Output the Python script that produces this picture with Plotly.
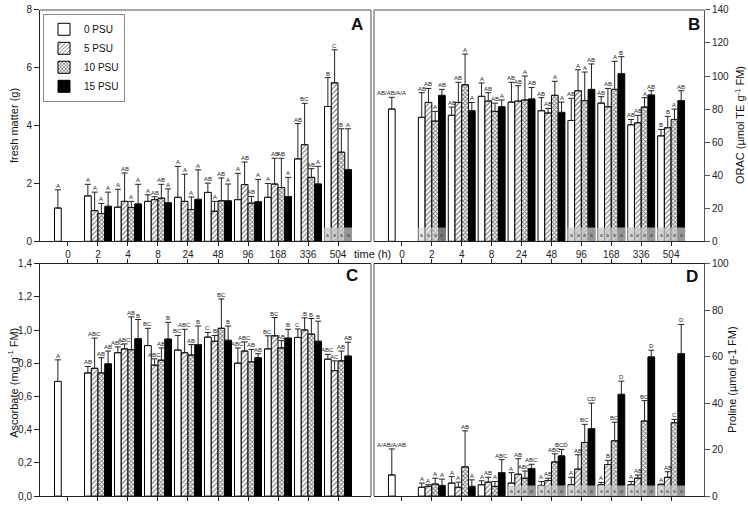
import plotly.graph_objects as go

W, H = 748, 507

# ---------------- data ----------------
times = ["0", "2", "4", "8", "24", "48", "96", "168", "336", "504"]
series = ["0 PSU", "5 PSU", "10 PSU", "15 PSU"]

# Panel A: fresh matter (g)
fm_mean_0 = [1.15, 1.57, 1.18, 1.38, 1.52, 1.69, 1.44, 1.52, 2.85, 4.66]
fm_err_0 = [0.63, 0.40, 0.62, 0.23, 1.07, 0.32, 0.91, 0.48, 1.22, 1.00]
fm_mean_5 = [None, 1.06, 1.38, 1.44, 1.38, 1.04, 1.96, 1.98, 3.34, 5.48]
fm_err_5 = [None, 0.64, 0.98, 0.10, 0.94, 0.34, 0.78, 0.89, 1.43, 1.14]
fm_mean_10 = [None, 0.96, 1.17, 1.49, 1.10, 1.40, 1.32, 1.86, 2.21, 3.08]
fm_err_10 = [None, 0.35, 0.21, 0.48, 0.43, 0.79, 0.23, 1.01, 0.30, 0.81]
fm_mean_15 = [None, 1.21, 1.29, 1.33, 1.45, 1.40, 1.37, 1.55, 1.98, 2.48]
fm_err_15 = [None, 0.49, 0.68, 0.48, 1.02, 0.58, 0.77, 0.66, 0.61, 1.41]
fm_let_0 = ["A", "A", "A", "A", "A", "AB", "A", "A", "AB", "B"]
fm_let_5 = [None, "A", "AB", "AB", "A", "A", "AB", "AB", "BC", "C"]
fm_let_10 = [None, "A", "A", "AB", "A", "AB", "AB", "AB", "AB", "B"]
fm_let_15 = [None, "A", "A", "A", "A", "A", "A", "A", "A", "A"]

# Panel B: ORAC (umol TE g-1 FM)
orac_mean_0 = [80.0, 75.0, 76.2, 87.7, 84.2, 79.0, 73.1, 83.6, 70.5, 63.8]
orac_err_0 = [7.1, 14.9, 5.0, 8.1, 12.0, 7.9, 13.4, 3.9, 3.2, 3.9]
orac_mean_5 = [None, 84.0, 84.0, 84.8, 84.8, 77.6, 91.1, 81.4, 71.7, 68.7]
orac_err_5 = [None, 8.5, 12.2, 5.1, 9.3, 2.8, 12.7, 11.1, 4.5, 6.9]
orac_mean_10 = [None, 72.7, 94.7, 78.6, 85.5, 88.3, 85.1, 91.9, 81.2, 73.7]
orac_err_10 = [None, 5.9, 18.6, 5.0, 14.5, 8.5, 17.3, 17.0, 5.7, 6.3]
orac_mean_15 = [None, 88.3, 79.0, 81.4, 86.1, 78.0, 91.9, 101.4, 88.5, 85.1]
orac_err_15 = [None, 3.6, 5.0, 4.1, 7.0, 6.2, 15.4, 10.3, 2.6, 6.0]
orac_let_0 = ["AB/AB/A/A", "AB", "AB", "A", "AB", "AB", "AB", "AB", "AB", "B"]
orac_let_5 = [None, "AB", "AB", "AB", "AB", "AB", "A", "AB", "AB", "B"]
orac_let_10 = [None, "A", "A", "AB", "A", "A", "A", "A", "A", "A"]
orac_let_15 = [None, "AB", "A", "A", "AB", "A", "AB", "B", "AB", "AB"]

# Panel C: Ascorbate (mg g-1 FM)
asc_mean_0 = [0.691, 0.742, 0.864, 0.907, 0.880, 0.958, 0.801, 0.887, 0.956, 0.825]
asc_err_0 = [0.130, 0.039, 0.035, 0.104, 0.088, 0.028, 0.092, 0.079, 0.051, 0.029]
asc_mean_5 = [None, 0.770, 0.887, 0.789, 0.864, 0.933, 0.874, 0.966, 1.001, 0.756]
asc_err_5 = [None, 0.182, 0.030, 0.038, 0.141, 0.035, 0.055, 0.110, 0.073, 0.059]
asc_mean_10 = [None, 0.742, 0.882, 0.819, 0.850, 1.011, 0.809, 0.893, 0.976, 0.815]
asc_err_10 = [None, 0.092, 0.198, 0.074, 0.063, 0.177, 0.075, 0.044, 0.094, 0.059]
asc_mean_15 = [None, 0.797, 0.948, 0.946, 0.913, 0.939, 0.834, 0.952, 0.933, 0.844]
asc_err_15 = [None, 0.077, 0.116, 0.101, 0.112, 0.086, 0.024, 0.053, 0.121, 0.083]
asc_let_0 = ["A", "AB", "ABC", "BC", "BC", "C", "ABC", "BC", "C", "ABC"]
asc_let_5 = [None, "ABC", "ABC", "ABC", "ABC", "B", "ABC", "BC", "B", "AC"]
asc_let_10 = [None, "AB", "AB", "AB", "AB", "BC", "AB", "AB", "B", "AB"]
asc_let_15 = [None, "AB", "B", "B", "B", "B", "AB", "B", "B", "AB"]

# Panel D: Proline (umol g-1 FM)
pro_mean_0 = [9.1, 3.8, 5.6, 4.9, 5.6, 4.6, 4.9, 4.9, 4.9, 4.9]
pro_err_0 = [11.2, 1.8, 2.8, 1.7, 4.5, 1.7, 3.2, 1.0, 1.4, 0.3]
pro_mean_5 = [None, 4.2, 3.8, 6.0, 9.4, 6.7, 11.6, 13.6, 7.7, 8.1]
pro_err_5 = [None, 0.7, 2.2, 2.1, 6.7, 1.0, 6.2, 1.8, 1.4, 2.4]
pro_mean_10 = [None, 5.2, 12.6, 4.2, 7.7, 14.7, 23.1, 23.8, 32.3, 31.6]
pro_err_10 = [None, 2.5, 15.5, 2.1, 3.1, 3.5, 7.8, 8.0, 8.8, 1.4]
pro_mean_15 = [None, 4.6, 4.2, 10.1, 11.9, 17.3, 29.0, 43.8, 59.9, 61.3]
pro_err_15 = [None, 2.7, 2.8, 5.6, 1.8, 2.8, 11.0, 5.7, 2.9, 12.6]
pro_let_0 = ["A/AB/A/AB", "A", "A", "A", "A", "A", "A", "A", "A", "A"]
pro_let_5 = [None, "A", "A", "AB", "AB", "AB", "AB", "B", "AB", "AB"]
pro_let_10 = [None, "A", "AB", "A", "ABC", "ABC", "BC", "BC", "BC", "C"]
pro_let_15 = [None, "A", "A", "ABC", "ABC", "BCD", "CD", "D", "D", "D"]

# groups carrying the small grey letter boxes at the base of the bars
box_groups_A = ["504"]
box_groups_B = ["2", "96", "168", "336", "504"]
box_groups_D = ["24", "48", "96", "168", "336", "504"]

y_ticks_A = [0, 2, 4, 6, 8]
y_ticks_B = [0, 20, 40, 60, 80, 100, 120, 140]
y_ticks_C = [0.0, 0.2, 0.4, 0.6, 0.8, 1.0, 1.2, 1.4]
y_ticktext_C = ["0,0", "0,2", "0,4", "0,6", "0,8", "1,0", "1,2", "1,4"]
y_ticks_D = [0, 20, 40, 60, 80, 100]

# ---------------- styling ----------------
FONT = "Arial, Liberation Sans, sans-serif"
BARGAP = 0.1
BW = (1 - BARGAP) / 4
OFFS = [(-1.5 + k) * BW for k in range(4)]

markers = [
    dict(color="white", line=dict(color="black", width=1)),
    dict(color="white", line=dict(color="black", width=1),
         pattern=dict(shape="/", fgcolor="black", bgcolor="white", size=3.5, solidity=0.35)),
    dict(color="white", line=dict(color="black", width=1),
         pattern=dict(shape="x", fgcolor="black", bgcolor="white", size=3, solidity=0.55)),
    dict(color="black", line=dict(color="black", width=1)),
]

panels = [
    dict(xa="x", ya="y", means=[fm_mean_0, fm_mean_5, fm_mean_10, fm_mean_15],
         errs=[fm_err_0, fm_err_5, fm_err_10, fm_err_15],
         lets=[fm_let_0, fm_let_5, fm_let_10, fm_let_15], legend=True),
    dict(xa="x2", ya="y2", means=[orac_mean_0, orac_mean_5, orac_mean_10, orac_mean_15],
         errs=[orac_err_0, orac_err_5, orac_err_10, orac_err_15],
         lets=[orac_let_0, orac_let_5, orac_let_10, orac_let_15], legend=False),
    dict(xa="x3", ya="y3", means=[asc_mean_0, asc_mean_5, asc_mean_10, asc_mean_15],
         errs=[asc_err_0, asc_err_5, asc_err_10, asc_err_15],
         lets=[asc_let_0, asc_let_5, asc_let_10, asc_let_15], legend=False),
    dict(xa="x4", ya="y4", means=[pro_mean_0, pro_mean_5, pro_mean_10, pro_mean_15],
         errs=[pro_err_0, pro_err_5, pro_err_10, pro_err_15],
         lets=[pro_let_0, pro_let_5, pro_let_10, pro_let_15], legend=False),
]

fig = go.Figure()
annotations = []
xidx = list(range(len(times)))

for p in panels:
    for k, name in enumerate(series):
        m = p["means"][k]
        e = p["errs"][k]
        fig.add_trace(go.Bar(
            x=xidx, y=m, name=name, legendgroup=name, showlegend=p["legend"],
            xaxis=p["xa"], yaxis=p["ya"], marker=markers[k],
            error_y=dict(type="data", symmetric=False, array=e,
                         arrayminus=[0 if v is not None else None for v in e],
                         color="#222", thickness=1, width=3),
            hoverinfo="x+y",
        ))
        for i, lab in enumerate(p["lets"][k]):
            if lab is None or m[i] is None:
                continue
            annotations.append(dict(
                x=i + OFFS[k], y=m[i] + e[i], xref=p["xa"], yref=p["ya"],
                text=lab, showarrow=False, yanchor="bottom", yshift=-1,
                font=dict(family=FONT, size=6, color="#222"),
            ))

# ---------------- grey letter boxes ----------------
shapes = []
box_specs = [("x", "y", box_groups_A, 0.48), ("x2", "y2", box_groups_B, 8.3), ("x4", "y4", box_groups_D, 4.6)]
for xa, ya, groups, h in box_specs:
    for g in groups:
        gi = times.index(g)
        light = (xa == "x2" and g == "2")
        shapes.append(dict(type="rect", xref=xa, yref=ya, x0=gi - 0.47, x1=gi + 0.47, y0=0, y1=h,
                           fillcolor="rgba(215,215,215,0.55)" if light else "rgba(200,200,200,0.75)",
                           line=dict(width=0), layer="above"))
        for k in range(4):
            annotations.append(dict(x=gi + OFFS[k], y=h * 0.45, xref=xa, yref=ya, text="a",
                                    showarrow=False, font=dict(family=FONT, size=5, color="#444")))

# panel frames (grey)
GREY = "#8a8a8a"
def frame(xa, ya, sides):
    xd, yd = xa + " domain", ya + " domain"
    seg = {"top": (0, 1, 1, 1), "right": (1, 0, 1, 1), "left": (0, 0, 0, 1)}
    for s in sides:
        x0, y0, x1, y1 = seg[s]
        shapes.append(dict(type="line", xref=xd, yref=yd, x0=x0, y0=y0, x1=x1, y1=y1,
                           line=dict(color=GREY, width=1.5), layer="above"))

frame("x", "y", ["top", "right"])
frame("x2", "y2", ["top", "left"])
frame("x3", "y3", ["right"])
frame("x4", "y4", ["left"])

# ---------------- texts ----------------
def pa(text, px, py, size, angle=0):
    annotations.append(dict(x=px / W, y=1 - py / H, xref="paper", yref="paper", text=text,
                            showarrow=False, textangle=angle, xanchor="center", yanchor="middle",
                            font=dict(family=FONT, size=size, color="#111")))

pa("<b>A</b>", 357, 19, 17)
pa("<b>B</b>", 694, 19, 17)
pa("<b>C</b>", 352, 276, 17)
pa("<b>D</b>", 692, 277, 17)
pa("time (h)", 372, 254, 11)
pa("fresh matter (g)", 14, 123, 11, -90)
pa("Ascorbate (mg g<sup>-1</sup> FM)", 13, 386, 11, -90)
pa("ORAC (µmol TE g<sup>-1</sup> FM)", 740, 122, 11, -90)
pa("Proline (µmol g-1 FM)", 732, 383, 11, -90)

# ---------------- axes ----------------
XR = [-0.933, 10.1]
dxA = [40 / W, 371 / W]
dxB = [374 / W, 704 / W]
dyTop = [1 - 241 / H, 1 - 4 / H]
dyBot = [1 - 502 / H, 1 - 264 / H]
tickfont = dict(family=FONT, size=10, color="#222")

def xax(domain, anchor, labels, mirror):
    return dict(domain=domain, anchor=anchor, range=XR, tickvals=xidx, ticktext=times,
                showticklabels=labels, ticks="outside", ticklen=4, tickcolor="#222",
                showline=True, linecolor="#222", linewidth=1, mirror=mirror,
                showgrid=False, zeroline=False, tickfont=tickfont, fixedrange=True)

def yax(domain, anchor, side, rng, vals, text=None, color="#222"):
    d = dict(domain=domain, anchor=anchor, side=side, range=rng, tickvals=vals,
             ticks="outside", ticklen=5, tickcolor=color, showline=True, linecolor=color,
             linewidth=1, showgrid=False, zeroline=False, tickfont=tickfont, fixedrange=True)
    if text is not None:
        d["ticktext"] = text
    return d

fig.update_layout(
    width=W, height=H, margin=dict(l=0, r=0, t=0, b=0),
    paper_bgcolor="white", plot_bgcolor="white",
    barmode="group", bargap=BARGAP, bargroupgap=0,
    font=dict(family=FONT, size=10, color="#222"),
    xaxis=xax(dxA, "y", True, False),
    xaxis2=xax(dxB, "y2", True, False),
    xaxis3=xax(dxA, "y3", False, "ticks"),
    xaxis4=xax(dxB, "y4", False, "ticks"),
    yaxis=yax(dyTop, "x", "left", [0, 8], y_ticks_A),
    yaxis2=yax(dyTop, "x2", "right", [0, 140], y_ticks_B, color="#555"),
    yaxis3=yax(dyBot, "x3", "left", [0, 1.4], y_ticks_C, y_ticktext_C),
    yaxis4=yax(dyBot, "x4", "right", [0, 100], y_ticks_D, color="#555"),
    legend=dict(x=43 / W, y=1 - 8 / H, xanchor="left", yanchor="top",
                bgcolor="white", bordercolor=GREY, borderwidth=1,
                font=dict(family=FONT, size=10, color="#111"),
                tracegroupgap=0, itemclick=False, itemdoubleclick=False),
    annotations=annotations,
    shapes=shapes,
    showlegend=True,
)

fig.write_html("out.html", config={"displayModeBar": False},
               post_script="document.body.style.margin='0';document.body.style.overflow='hidden';")
